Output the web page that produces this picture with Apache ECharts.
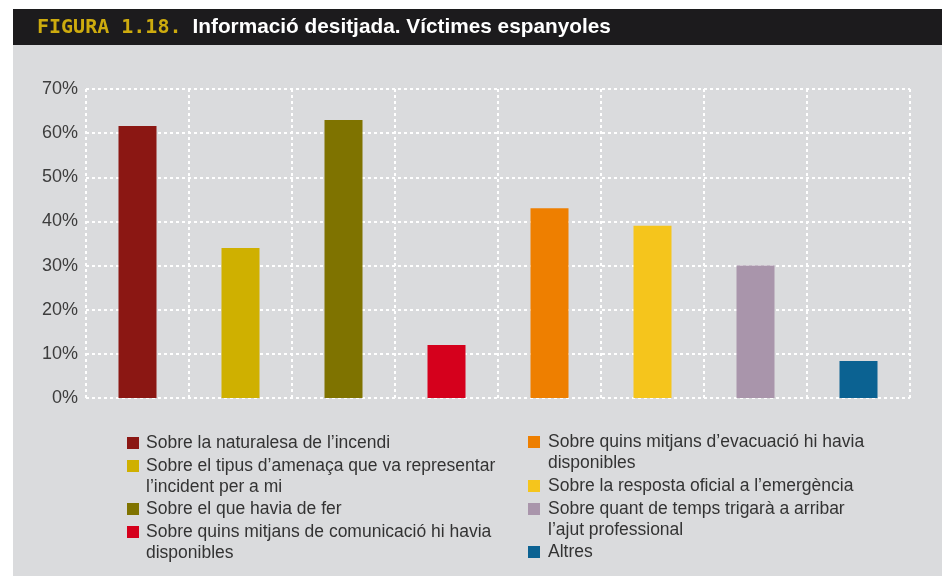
<!DOCTYPE html>
<html>
<head>
<meta charset="utf-8">
<script src="https://cdn.jsdelivr.net/npm/echarts@6/dist/echarts.min.js"></script>
<style>
  html, body { margin: 0; padding: 0; background: #fff; }
  #chart { width: 942px; height: 576px; }
</style>
</head>
<body>
<div id="chart"></div>
<script>
// categories (legend text, already wrapped like in the figure)
const categories = [
  'Sobre la naturalesa de l’incendi',
  'Sobre el tipus d’amenaça que va representar\nl’incident per a mi',
  'Sobre el que havia de fer',
  'Sobre quins mitjans de comunicació hi havia\ndisponibles',
  'Sobre quins mitjans d’evacuació hi havia\ndisponibles',
  'Sobre la resposta oficial a l’emergència',
  'Sobre quant de temps trigarà a arribar\nl’ajut professional',
  'Altres'
];
// percentages
const values = [61.6, 34, 63, 12, 43, 39, 30, 8.4];
const colors = ['#8b1713', '#cfb000', '#7f7300', '#d5001c', '#ee7f00', '#f5c51c', '#a995ab', '#0b6292'];

const titleNum = 'FIGURA 1.18.';
const titleText = 'Informació desitjada. Víctimes espanyoles';

const chart = echarts.init(document.getElementById('chart'));

const font = 'Liberation Sans, Arial, sans-serif';
const lineH = 21.5;
// icon centre y of each legend entry (two columns of four)
const legendY = [443, 466, 509, 532, 442, 486, 509, 552];

const gridLine = { show: true, interval: 0, lineStyle: { color: '#ffffff', width: 2, type: [3, 3] } };

const option = {
  backgroundColor: '#dadbdd',
  animation: false,
  title: {
    text: '{a|' + titleNum + '}{b|' + titleText + '}',
    left: 37,
    top: 17,
    padding: 0,
    textStyle: {
      rich: {
        a: { fontFamily: 'DejaVu Sans Mono', fontWeight: 'bold', fontSize: 20, color: '#cdab0e' },
        b: { fontFamily: font, fontWeight: 'bold', fontSize: 20.8, color: '#ffffff', padding: [0, 0, 0, 11] }
      }
    }
  },
  graphic: [
    { type: 'rect', shape: { x: 0, y: 0, width: 942, height: 9 }, style: { fill: '#ffffff' }, z: -1 },
    { type: 'rect', shape: { x: 0, y: 0, width: 13, height: 576 }, style: { fill: '#ffffff' }, z: -1 },
    { type: 'rect', shape: { x: 13, y: 9, width: 929, height: 36 }, style: { fill: '#1c1b1d' }, z: -1 }
  ],
  legend: categories.map((name, i) => {
    const twoLines = name.indexOf('\n') >= 0;
    return {
      data: [name],
      left: i < 4 ? 127 : 528,
      top: legendY[i] - lineH / 2 - (twoLines ? lineH : 0),
      padding: 0,
      icon: 'rect',
      itemWidth: 12,
      itemHeight: 12,
      selectedMode: false,
      // a blank first line keeps the icon next to the first text line
      formatter: n => (twoLines ? '\n' + n : n),
      textStyle: {
        fontFamily: font,
        fontSize: 17.5,
        color: '#333333',
        lineHeight: lineH,
        padding: [0, 0, 0, i < 4 ? 2 : 3]
      }
    };
  }),
  grid: { left: 86, right: 32, top: 89, bottom: 178, containLabel: false },
  xAxis: {
    type: 'category',
    data: categories,
    axisLine: { show: false },
    axisTick: { show: false },
    axisLabel: { show: false },
    splitLine: gridLine
  },
  yAxis: {
    type: 'value',
    min: 0,
    max: 70,
    interval: 10,
    axisLine: { show: false },
    axisTick: { show: false },
    axisLabel: {
      formatter: '{value}%',
      fontFamily: font,
      fontSize: 18,
      color: '#3d3d3d',
      margin: 8
    },
    splitLine: gridLine
  },
  series: categories.map((name, i) => ({
    name: name,
    type: 'bar',
    stack: 'all',
    barWidth: 38,
    itemStyle: { color: colors[i] },
    data: categories.map((c, j) => (j === i ? values[i] : '-'))
  }))
};

chart.setOption(option);
</script>
</body>
</html>
